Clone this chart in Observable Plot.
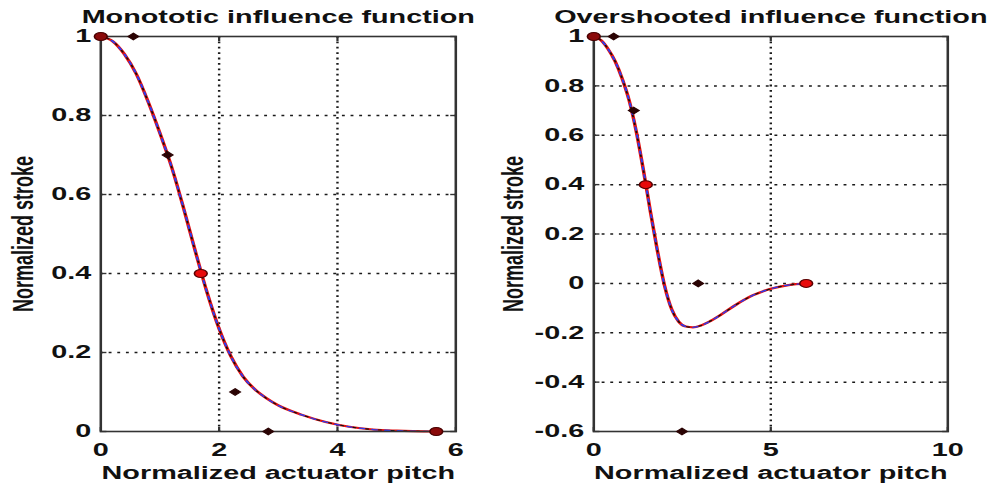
<!DOCTYPE html>
<html>
<head>
<meta charset="utf-8">
<script src="https://cdn.jsdelivr.net/npm/d3@7"></script>
<script src="https://cdn.jsdelivr.net/npm/@observablehq/plot@0.6"></script>
<style>
  html, body { margin: 0; padding: 0; background: #fff; }
  #wrap { display: flex; flex-direction: row; width: 987px; height: 486px; overflow: hidden; }
  svg { display: block; }
</style>
</head>
<body>
<div id="wrap"></div>
<script>
// ---- Data ----
const titles = ["Monototic influence function", "Overshooted influence function"];
const xLabel = "Normalized actuator pitch";
const yLabel = "Normalized stroke";

// Left: monotonic influence function (curve samples)
const monoX = [0, 0.2, 0.4, 0.6, 0.8, 1.0, 1.2, 1.4, 1.6, 1.8, 2.0, 2.2, 2.4, 2.6, 2.8, 3.0, 3.4, 3.8, 4.2, 4.6, 5.0, 5.67];
const monoY = [1, 0.988, 0.955, 0.905, 0.835, 0.755, 0.668, 0.565, 0.455, 0.35, 0.26, 0.19, 0.14, 0.107, 0.084, 0.066, 0.042, 0.024, 0.012, 0.005, 0.002, 0];
// Left markers
const monoDiamondX = [0.55, 1.13, 2.27, 2.83];
const monoDiamondY = [1, 0.7, 0.1, 0];
const monoDarkCircleX = [0, 5.67];
const monoDarkCircleY = [1, 0];
const monoRedCircleX = [1.69];
const monoRedCircleY = [0.4];
const monoXTicks = [0, 2, 4, 6];
const monoYTicks = [0, 0.2, 0.4, 0.6, 0.8, 1];

// Right: overshooted influence function (curve samples)
const overX = [0, 0.2, 0.4, 0.6, 0.8, 1.0, 1.2, 1.4, 1.6, 1.8, 2.0, 2.2, 2.4, 2.6, 2.8, 3.0, 3.3, 3.6, 4.0, 4.5, 5.0, 5.5, 6.0];
const overY = [1, 0.985, 0.95, 0.9, 0.83, 0.74, 0.615, 0.46, 0.29, 0.13, -0.01, -0.105, -0.155, -0.175, -0.178, -0.172, -0.152, -0.126, -0.088, -0.048, -0.022, -0.007, 0];
// Right markers
const overDiamondX = [0.56, 1.13, 2.95, 2.49];
const overDiamondY = [1, 0.7, 0, -0.6];
const overDarkCircleX = [0];
const overDarkCircleY = [1];
const overRedCircleX = [1.47, 6.0];
const overRedCircleY = [0.4, 0];
const overXTicks = [0, 5, 10];
const overYTicks = [-0.6, -0.4, -0.2, 0, 0.2, 0.4, 0.6, 0.8, 1];

// ---- Rendering ----
const S = 1.6;          // horizontal stretch of the reference image
const H = 486;
const FONT = "'Liberation Sans', Arial, Helvetica, sans-serif";

const pts = (xs, ys) => xs.map((x, i) => ({x, y: ys[i]}));

function panel(cfg) {
  const curve = pts(cfg.cx, cfg.cy);
  const [x0, x1] = d3.extent(cfg.xTicks);
  const [y0, y1] = d3.extent(cfg.yTicks);
  const gx = cfg.xTicks.filter(d => d !== x0 && d !== x1);
  const gy = cfg.yTicks.filter(d => d !== y0 && d !== y1);
  const gridStyle = {stroke: "#1a1a1a", strokeWidth: 1.5, strokeDasharray: "1.8,3.6"};
  const tickStyle = {tickSize: -4, fill: "none", label: null, stroke: "#333", strokeWidth: 1.4};
  const W = cfg.finalW / S;
  const svg = Plot.plot({
    width: W,
    height: H,
    marginLeft: cfg.mLeft / S,
    marginRight: cfg.mRight / S,
    marginTop: 36,
    marginBottom: 55,
    style: {fontFamily: FONT, fontSize: "18px", fontWeight: "bold", color: "#111", background: "#fff", overflow: "visible"},
    x: {domain: [x0, x1]},
    y: {domain: [y0, y1]},
    marks: [
      Plot.ruleX(gx, {x: d => d, ...gridStyle}),
      Plot.ruleY(gy, {y: d => d, ...gridStyle}),
      Plot.line(curve, {x: "x", y: "y", stroke: "#e41010", strokeWidth: 2.2, curve: "monotone-x"}),
      Plot.line(curve, {x: "x", y: "y", stroke: "#2a3cf0", strokeWidth: 1.3, strokeDasharray: "3,5", curve: "monotone-x"}),
      Plot.line(curve, {x: "x", y: "y", stroke: "#111", strokeWidth: 1.1, strokeDasharray: "1.5,6.5", strokeDashoffset: 4, curve: "monotone-x"}),
      Plot.frame({stroke: "#333", strokeWidth: 1.6}),
      Plot.axisX(cfg.xTicks, {anchor: "bottom", tickSize: 0, tickPadding: 12, label: null, tickFormat: d => String(d), fontWeight: "bold"}),
      Plot.axisY(cfg.yTicks, {anchor: "left", tickSize: 0, tickPadding: 6, label: null, tickFormat: d => String(d), fontWeight: "bold"}),
      Plot.axisX(cfg.xTicks, {...tickStyle, anchor: "bottom"}),
      Plot.axisX(cfg.xTicks, {...tickStyle, anchor: "top"}),
      Plot.axisY(cfg.yTicks, {...tickStyle, anchor: "left"}),
      Plot.axisY(cfg.yTicks, {...tickStyle, anchor: "right"}),
      Plot.dot(pts(cfg.dX, cfg.dY), {x: "x", y: "y", symbol: "diamond2", r: 3, fill: "#2a0303", stroke: "#2a0303", strokeWidth: 1}),
      Plot.dot(pts(cfg.kX, cfg.kY), {x: "x", y: "y", r: 4, fill: "#8a0a0a", stroke: "#4a0000", strokeWidth: 1}),
      Plot.dot(pts(cfg.rX, cfg.rY), {x: "x", y: "y", r: 4, fill: "#e80a0a", stroke: "#5a0000", strokeWidth: 1}),
      Plot.text([cfg.title], {text: d => d, frameAnchor: "top", dy: -19.5, lineAnchor: "middle", textAnchor: "middle", fontSize: 18, fontWeight: "bold", fill: "#111"}),
      Plot.text([xLabel], {text: d => d, frameAnchor: "bottom", dy: 42, lineAnchor: "middle", textAnchor: "middle", fontSize: 18, fontWeight: "bold", fill: "#111"}),
      Plot.text([yLabel], {text: d => d, frameAnchor: "left", rotate: -90, dx: cfg.yLabDx, lineAnchor: "middle", textAnchor: "middle", fontSize: 18, fontWeight: "bold", fill: "#111"})
    ]
  });
  svg.setAttribute("width", cfg.finalW);
  svg.setAttribute("height", H);
  svg.setAttribute("preserveAspectRatio", "none");
  svg.style.width = cfg.finalW + "px";
  svg.style.height = H + "px";
  svg.style.maxWidth = "none";
  return svg;
}

const wrap = document.getElementById("wrap");
wrap.appendChild(panel({
  title: titles[0], cx: monoX, cy: monoY,
  xTicks: monoXTicks, yTicks: monoYTicks,
  dX: monoDiamondX, dY: monoDiamondY,
  kX: monoDarkCircleX, kY: monoDarkCircleY,
  rX: monoRedCircleX, rY: monoRedCircleY,
  finalW: 490, mLeft: 100, mRight: 35, yLabDx: -48
}));
wrap.appendChild(panel({
  title: titles[1], cx: overX, cy: overY,
  xTicks: overXTicks, yTicks: overYTicks,
  dX: overDiamondX, dY: overDiamondY,
  kX: overDarkCircleX, kY: overDarkCircleY,
  rX: overRedCircleX, rY: overRedCircleY,
  finalW: 497, mLeft: 103, mRight: 40, yLabDx: -50
}));
</script>
</body>
</html>
